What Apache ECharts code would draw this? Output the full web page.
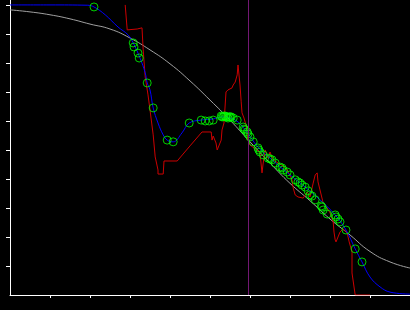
<!DOCTYPE html>
<html>
<head>
<meta charset="utf-8">
<script src="https://cdn.jsdelivr.net/npm/echarts@6/dist/echarts.min.js"></script>
<style>
html,body{margin:0;padding:0;background:#000;}
#chart{width:410px;height:310px;}
</style>
</head>
<body>
<div id="chart"></div>
<script>
// Axis extents and ticks (data units)
const xMin = 0, xMax = 10;
const yMin = 0, yMax = 10.17;
const xTicks = [1, 2, 3, 4, 5, 6, 7, 8, 9];
const yTicks = [1, 2, 3, 4, 5, 6, 7, 8, 9, 10];
const vlineX = 5.95;

// Gray reference curve
const grayX = [0, 0.5, 1, 1.5, 2, 2.5, 3, 3.5, 4, 4.5, 5, 5.5, 6, 6.5, 7, 7.5, 8, 8.5, 9, 9.5, 10];
const grayY = [9.83, 9.76, 9.66, 9.52, 9.34, 9.17, 8.86, 8.45, 7.97, 7.38, 6.72, 6.03, 5.28, 4.55, 3.85, 3.25, 2.62, 2.07, 1.5, 1.14, 0.93];

// Red noisy signal
const redX = [2.88, 2.93, 2.93, 3.18, 3.23, 3.3, 3.33, 3.38, 3.45, 3.5, 3.58, 3.63, 3.7, 3.7, 3.83, 3.85, 4.18, 4.5, 4.8, 5.03,
  5.05, 5.08, 5.15, 5.18, 5.23, 5.28, 5.3, 5.35, 5.38, 5.4, 5.45, 5.55, 5.58, 5.63, 5.68, 5.7, 5.73, 5.75, 5.78, 5.8,
  5.85, 5.9, 5.93, 5.95, 6.0, 6.1, 6.18, 6.25, 6.3, 6.33, 6.38, 6.45, 6.5, 6.58, 6.7, 6.83, 6.93, 7.05, 7.08, 7.13,
  7.2, 7.25, 7.33, 7.43, 7.5, 7.58, 7.63, 7.68, 7.7, 7.75, 7.83, 7.93, 8.0, 8.08, 8.1, 8.13, 8.15, 8.2, 8.25, 8.33,
  8.38, 8.43, 8.48, 8.55, 8.55, 8.6, 8.63, 9.0];
const redY = [10.0, 10.0, 9.14, 9.17, 9.21, 9.21, 8.45, 7.52, 6.9, 6.38, 5.52, 4.76, 4.31, 4.17, 4.17, 4.62, 4.62, 5.14, 5.62, 5.62,
  5.34, 5.48, 5.24, 5.0, 5.03, 5.34, 5.69, 5.93, 5.97, 7.0, 7.07, 7.14, 7.24, 7.34, 7.59, 7.93, 7.9, 7.24, 6.66, 6.28,
  6.1, 5.86, 5.52, 5.34, 5.17, 5.07, 5.0, 4.9, 4.21, 4.55, 5.0, 4.72, 4.93, 4.66, 4.55, 4.45, 4.31, 3.97, 3.69, 3.45,
  3.38, 3.38, 3.34, 3.55, 3.38, 3.86, 4.14, 4.21, 3.9, 3.62, 3.17, 3.0, 2.83, 2.52, 2.17, 1.9, 1.83, 2.0, 2.17, 2.28,
  2.31, 2.14, 1.83, 1.48, 0.76, 0.76, 0.0, 0.0];

// Blue fitted curve
const blueX = [0, 1, 1.93, 2.1, 2.38, 2.7, 2.95, 3.08, 3.25, 3.38, 3.43, 3.5, 3.58, 3.7, 3.83, 3.93, 4.08, 4.3, 4.48, 4.78,
  5.08, 5.3, 5.63, 5.88, 6.2, 6.55, 7.0, 7.38, 7.75, 8.13, 8.4, 8.63, 8.8, 9.0, 9.25, 9.5, 10];
const blueY = [10.0, 10.0, 9.99, 9.93, 9.66, 9.24, 8.97, 8.69, 8.17, 7.66, 7.31, 7.07, 6.45, 5.93, 5.52, 5.34, 5.28, 5.59, 5.93, 6.03,
  6.07, 6.14, 6.03, 5.69, 5.1, 4.66, 4.14, 3.72, 3.28, 2.76, 2.24, 1.59, 1.14, 0.62, 0.28, 0.1, 0.03];

// Green sample points
const ptX = [2.1, 3.08, 3.1, 3.2, 3.23, 3.43, 3.58, 3.93, 4.08, 4.48, 4.78, 4.88, 4.98, 5.08,
  5.28, 5.3, 5.33, 5.35, 5.38, 5.4, 5.43, 5.45, 5.48, 5.5, 5.53, 5.58, 5.68,
  5.83, 5.85, 5.88, 5.93, 5.95, 6.0, 6.08, 6.2, 6.22, 6.25, 6.33, 6.45, 6.5, 6.55, 6.63, 6.75, 6.8, 6.83, 6.93, 7.0,
  7.13, 7.2, 7.25, 7.3, 7.38, 7.45, 7.5, 7.55, 7.63, 7.78, 7.8, 7.83, 7.93, 8.13, 8.15, 8.2, 8.25, 8.4, 8.63, 8.8];
const ptY = [9.93, 8.69, 8.55, 8.34, 8.17, 7.31, 6.45, 5.34, 5.28, 5.93, 6.03, 6.0, 6.0, 6.03,
  6.17, 6.14, 6.14, 6.17, 6.17, 6.14, 6.14, 6.1, 6.14, 6.14, 6.14, 6.1, 6.03,
  5.79, 5.72, 5.69, 5.62, 5.55, 5.45, 5.28, 5.07, 5.0, 4.93, 4.83, 4.72, 4.69, 4.66, 4.55, 4.41, 4.38, 4.31, 4.24, 4.14,
  3.97, 3.9, 3.86, 3.79, 3.72, 3.59, 3.45, 3.41, 3.28, 3.07, 3.03, 2.93, 2.79, 2.76, 2.69, 2.62, 2.52, 2.24, 1.59, 1.14];

const zip = (xs, ys) => xs.map((x, i) => [x, ys[i]]);

const chart = echarts.init(document.getElementById('chart'), null, {renderer: 'canvas'});
chart.setOption({
  backgroundColor: '#000000',
  animation: false,
  grid: {left: 10, right: 0, top: 0, bottom: 15},
  xAxis: {
    type: 'value', min: xMin, max: xMax, interval: 1,
    axisLine: {show: true, lineStyle: {color: '#ffffff', width: 1}},
    axisTick: {show: true, length: 3, customValues: xTicks, lineStyle: {color: '#ffffff', width: 1}},
    axisLabel: {show: false},
    splitLine: {show: false}
  },
  yAxis: {
    type: 'value', min: yMin, max: yMax, interval: 1,
    axisLine: {show: true, lineStyle: {color: '#ffffff', width: 1}},
    axisTick: {show: true, length: 4, customValues: yTicks, lineStyle: {color: '#ffffff', width: 1}},
    axisLabel: {show: false},
    splitLine: {show: false}
  },
  series: [
    {
      type: 'line', data: zip(grayX, grayY), smooth: true, symbol: 'none',
      lineStyle: {color: '#a0a0a0', width: 1}, z: 1, silent: true
    },
    {
      type: 'line', data: zip(redX, redY), symbol: 'none',
      lineStyle: {color: '#cc0000', width: 1}, z: 2, silent: true,
      markLine: {
        silent: true, symbol: 'none', label: {show: false},
        lineStyle: {color: '#741874', type: 'solid', width: 1},
        data: [{xAxis: vlineX}]
      }
    },
    {
      type: 'line', data: zip(blueX, blueY), smooth: 0.4, symbol: 'none',
      lineStyle: {color: '#0000ff', width: 1}, z: 3, silent: true
    },
    {
      type: 'scatter', data: zip(ptX, ptY), symbol: 'circle', symbolSize: 8,
      itemStyle: {color: 'transparent', borderColor: '#00ff00', borderWidth: 1}, z: 4, silent: true
    }
  ]
});
</script>
</body>
</html>
